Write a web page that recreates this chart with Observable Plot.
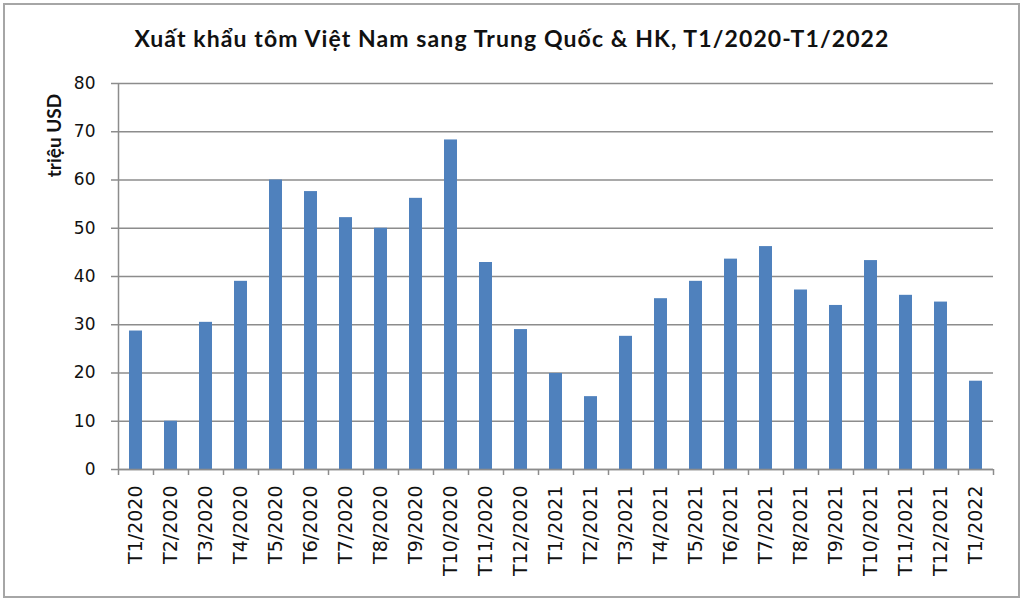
<!DOCTYPE html>
<html>
<head>
<meta charset="utf-8">
<script src="https://cdn.jsdelivr.net/npm/d3@7"></script>
<script src="https://cdn.jsdelivr.net/npm/@observablehq/plot@0.6"></script>
<style>
  html, body { margin: 0; padding: 0; background: #fff; }
  #wrap { position: relative; width: 1024px; height: 604px; overflow: hidden; }
  #title { height: 70px; box-sizing: border-box; padding-top: 25px; line-height: 26px; letter-spacing: 1.1px;
           text-align: center; font-family: Lato, sans-serif; font-weight: bold; font-size: 23px; color: #111; }
  #frame { position: absolute; left: 3px; top: 3px; width: 1017px; height: 595px; box-sizing: border-box;
           border: 2px solid #a6a6a6; pointer-events: none; }
  #chart svg { display: block; }
</style>
</head>
<body>
<div id="wrap">
  <div id="title">Xuất khẩu tôm Việt Nam sang Trung Quốc &amp; HK, T1/2020-T1/2022</div>
  <div id="chart"></div>
  <div id="frame"></div>
</div>
<script>
const months = ["T1/2020","T2/2020","T3/2020","T4/2020","T5/2020","T6/2020","T7/2020","T8/2020","T9/2020","T10/2020","T11/2020","T12/2020",
                "T1/2021","T2/2021","T3/2021","T4/2021","T5/2021","T6/2021","T7/2021","T8/2021","T9/2021","T10/2021","T11/2021","T12/2021","T1/2022"];
const values = [28.7,10.0,30.5,39.0,60.0,57.6,52.2,50.0,56.2,68.3,42.9,29.0,
                19.9,15.1,27.6,35.4,39.0,43.6,46.2,37.2,34.0,43.3,36.1,34.7,18.3];
const yTicks = [0,10,20,30,40,50,60,70,80];
const yLabel = "triệu USD";

const data = months.map((m, i) => ({month: m, value: values[i]}));
const step = 35;
const gridColor = "#8c8c8c";

const plot = Plot.plot({
  width: 1024,
  height: 534,
  marginTop: 13,
  marginBottom: 135,
  marginLeft: 118,
  marginRight: 31,
  style: {fontFamily: "DejaVu Sans, sans-serif", color: "#111", background: "#fff"},
  x: {domain: months, paddingInner: 0.62, paddingOuter: 0.31, label: null},
  y: {domain: [0, 80], label: null},
  marks: [
    Plot.gridY(yTicks, {stroke: gridColor, strokeOpacity: 1, strokeWidth: 1.5}),
    Plot.barY(data, {x: "month", y: "value", fill: "#4F81BD"}),
    Plot.ruleY([0], {stroke: gridColor, strokeWidth: 1.5}),
    Plot.ruleX(months.slice(0, 1), {x: d => d, dx: -step / 2, stroke: gridColor, strokeWidth: 1.5, insetBottom: -6}),
    Plot.ruleX(months, {x: d => d, dx: step / 2, y1: 0, y2: 0, insetBottom: -6, stroke: gridColor, strokeWidth: 1.5}),
    Plot.axisY(yTicks, {tickSize: 7, tickPadding: 16, fontSize: 17, stroke: gridColor, strokeWidth: 1.5, label: null, fill: "#111"}),
    Plot.axisX({tickSize: 0, tickRotate: -90, tickPadding: 16, fontSize: 19, label: null, fill: "#111"}),
    Plot.text([yLabel], {frameAnchor: "top-left", dx: -64, dy: 52, rotate: -90, text: d => d,
                         fontSize: 19, fontWeight: "bold", fontFamily: "Lato, sans-serif", fill: "#111",
                         textAnchor: "middle", lineAnchor: "middle"})
  ]
});
document.getElementById("chart").appendChild(plot);
</script>
</body>
</html>
